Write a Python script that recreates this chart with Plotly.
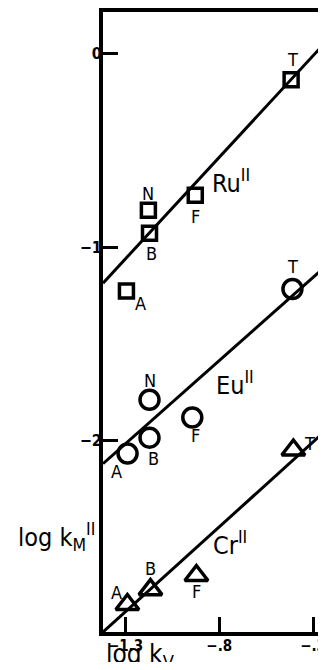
import plotly.graph_objects as go

# log kV (x) and log kM(II) (y)
ru_labels = ["A", "B", "N", "F", "T"]
ru_x = [-1.295, -1.172, -1.178, -0.928, -0.417]
ru_y = [-1.227, -0.928, -0.809, -0.732, -0.134]

eu_labels = ["A", "B", "N", "F", "T"]
eu_x = [-1.289, -1.172, -1.172, -0.944, -0.410]
eu_y = [-2.067, -1.985, -1.789, -1.881, -1.216]

cr_labels = ["A", "B", "F", "T"]
cr_x = [-1.290, -1.167, -0.922, -0.405]
cr_y = [-2.848, -2.771, -2.698, -2.049]

# fitted lines (end points)
fit_x = [-1.42, -0.20]
ru_fit = [-1.186, 0.095]
eu_fit = [-2.120, -1.070]
cr_fit = [-2.990, -1.920]

x_ticks = [-1.3, -0.8, -0.3]
x_tick_text = ["<b>−1.3</b>", "<b>−.8</b>", "<b>−.3</b>"]
y_ticks = [0, -1, -2]
y_tick_text = ["<b>0</b>", "<b>−1</b>", "<b>−2</b>"]

FONT = "Liberation Sans Narrow, DejaVu Sans Condensed, Arial, sans-serif"
BLACK = "black"

# pixel offsets of the point letters from their markers
ru_off = [(14, 12), (2, 20), (0, -17), (0, 21), (1, -20)]
eu_off = [(-11, 18), (4, 21), (0, -19), (3, 18), (0, -22)]
cr_off = [(-11, -12), (0, -21), (0, 16), (16, -7)]

fig = go.Figure()

for fy in [ru_fit, eu_fit, cr_fit]:
    fig.add_trace(go.Scatter(x=fit_x, y=fy, mode="lines",
                             line=dict(color=BLACK, width=3),
                             hoverinfo="skip"))

fig.add_trace(go.Scatter(
    x=ru_x, y=ru_y, mode="markers",
    marker=dict(symbol="square-open", size=14, color=BLACK,
                line=dict(width=3.5, color=BLACK))))
fig.add_trace(go.Scatter(
    x=eu_x, y=eu_y, mode="markers",
    marker=dict(symbol="circle-open", size=19, color=BLACK,
                line=dict(width=3.5, color=BLACK))))
fig.add_trace(go.Scatter(
    x=cr_x, y=cr_y, mode="markers",
    marker=dict(symbol="triangle-up-open", size=20, color=BLACK,
                line=dict(width=3.5, color=BLACK))))

for xs, ys, labs, offs in [(ru_x, ru_y, ru_labels, ru_off),
                           (eu_x, eu_y, eu_labels, eu_off),
                           (cr_x, cr_y, cr_labels, cr_off)]:
    for xx, yy, lab, (dx, dy) in zip(xs, ys, labs, offs):
        fig.add_annotation(x=xx, y=yy, text=lab, showarrow=False,
                           xshift=dx, yshift=-dy,
                           font=dict(size=18, family=FONT, color=BLACK))

# series labels
for txt, xx, yy in [("Ru<sup>II</sup>", -0.736, -0.66),
                    ("Eu<sup>II</sup>", -0.715, -1.706),
                    ("Cr<sup>II</sup>", -0.741, -2.531)]:
    fig.add_annotation(x=xx, y=yy, text=txt, showarrow=False,
                       font=dict(size=25, family=FONT, color=BLACK))

fig.add_annotation(x=-1.42, y=-2.5, xref="x", yref="y", xanchor="right",
                   xshift=-6, text="log k<sub>M</sub><sup>II</sup>",
                   showarrow=False,
                   font=dict(size=25, family=FONT, color=BLACK))
fig.add_annotation(xref="paper", yref="paper", x=0.17, y=0, yshift=-5,
                   xanchor="center", yanchor="top",
                   text="log k<sub>V</sub>", showarrow=False,
                   font=dict(size=26, family=FONT, color=BLACK))

# the page body adds an 8 px offset, so the figure is a bit smaller
fig.update_layout(
    width=318, height=654,
    margin=dict(l=95, r=0, t=2, b=30),
    paper_bgcolor="white", plot_bgcolor="white",
    showlegend=False,
    xaxis=dict(range=[-1.42, -0.247], showgrid=False, zeroline=False,
               showline=True, linecolor=BLACK, linewidth=4, mirror=True,
               ticks="inside", ticklen=15, tickwidth=2.5, tickcolor=BLACK,
               tickvals=x_ticks, ticktext=x_tick_text, ticklabelstandoff=-3,
               ticklabeloverflow="allow",
               tickfont=dict(size=15, family=FONT, color=BLACK)),
    yaxis=dict(range=[-2.99, 0.216], showgrid=False, zeroline=False,
               showline=True, linecolor=BLACK, linewidth=4,
               ticks="inside", ticklen=15, tickwidth=2.5, tickcolor=BLACK,
               tickvals=y_ticks, ticktext=y_tick_text, ticklabelstandoff=-6,
               tickfont=dict(size=16, family=FONT, color=BLACK)),
)

fig.write_html("out.html")
